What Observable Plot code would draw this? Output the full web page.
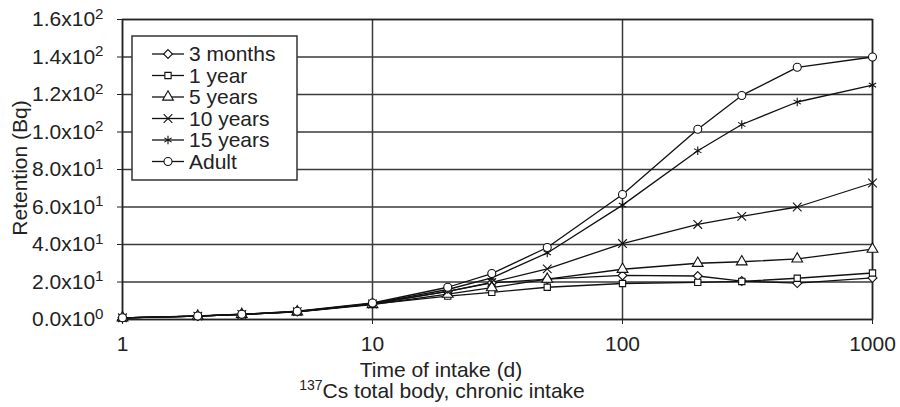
<!DOCTYPE html>
<html>
<head>
<meta charset="utf-8">
<script src="https://cdn.jsdelivr.net/npm/d3@7"></script>
<script src="https://cdn.jsdelivr.net/npm/@observablehq/plot@0.6"></script>
<style>
  html, body { margin: 0; padding: 0; background: #fff; }
  #chart { width: 900px; height: 407px; }
</style>
</head>
<body>
<div id="chart"></div>
<script>
// ---- data ----
const days = [1, 2, 3, 5, 10, 20, 30, 50, 100, 200, 300, 500, 1000];
const seriesNames = ["3 months", "1 year", "5 years", "10 years", "15 years", "Adult"];
const months3 = [0.9, 1.8, 2.7, 4.2, 8.4, 15.0, 19.5, 21.5, 23.5, 23.2, 20.5, 19.4, 22.2];
const year1   = [0.9, 1.8, 2.7, 4.1, 8.2, 12.5, 14.5, 17.2, 19.2, 19.8, 20.3, 22.0, 24.8];
const years5  = [0.9, 1.8, 2.7, 4.1, 8.0, 13.5, 17.0, 21.5, 26.8, 30.0, 30.8, 32.3, 37.5];
const years10 = [0.9, 1.8, 2.7, 4.2, 8.3, 15.0, 19.8, 27.0, 40.5, 50.7, 55.0, 60.0, 72.8];
const years15 = [0.9, 1.8, 2.8, 4.3, 8.6, 16.0, 22.2, 35.5, 61.0, 90.0, 104.0, 116.0, 125.0];
const adult   = [0.9, 1.9, 2.8, 4.4, 8.8, 17.2, 24.5, 38.4, 66.7, 101.5, 119.5, 134.5, 140.0];
const seriesValues = [months3, year1, years5, years10, years15, adult];
const seriesSymbols = ["diamond2", "square2", "triangle", "times", "asterisk", "circle"];

const xTicks = [1, 10, 100, 1000];
const xTickLabels = ["1", "10", "100", "1000"];
const yTicks = [0, 20, 40, 60, 80, 100, 120, 140, 160];
const yTickLabels = ["0.0x10^0", "2.0x10^1", "4.0x10^1", "6.0x10^1", "8.0x10^1",
                     "1.0x10^2", "1.2x10^2", "1.4x10^2", "1.6x10^2"];
const xTitle = "Time of intake (d)";
const yTitle = "Retention (Bq)";
const captionSup = "137";
const captionText = "Cs total body, chronic intake";

// ---- table ----
const rows = [];
seriesNames.forEach((s, i) => {
  days.forEach((d, j) => rows.push({day: d, value: seriesValues[i][j], series: s}));
});

const FONT = "'Liberation Sans', Arial, Helvetica, sans-serif";
const FS = 21;
const GRID = "#3a3a3a";

const plot = Plot.plot({
  width: 900,
  height: 407,
  marginLeft: 122,
  marginRight: 28,
  marginTop: 19,
  marginBottom: 88,
  style: {fontFamily: FONT, fontSize: FS + "px", color: "#222", background: "#fff"},
  x: {
    type: "log",
    domain: [1, 1000],
    ticks: xTicks,
    tickFormat: d => xTickLabels[xTicks.indexOf(d)],
    tickSize: 5,
    tickPadding: 12,
    label: null
  },
  y: {
    domain: [0, 160],
    ticks: yTicks,
    tickFormat: d => yTickLabels[yTicks.indexOf(d)],
    tickSize: 5,
    tickPadding: 14,
    label: null
  },
  symbol: {domain: seriesNames, range: seriesSymbols},
  marks: [
    Plot.ruleY(yTicks, {stroke: GRID, strokeWidth: 1.5}),
    Plot.ruleX(xTicks, {stroke: GRID, strokeWidth: 1.5}),
    Plot.frame({stroke: "#222", strokeWidth: 1.5}),
    Plot.line(rows, {x: "day", y: "value", z: "series", stroke: "#111", strokeWidth: 1.3}),
    Plot.dot(rows, {x: "day", y: "value", symbol: "series", fill: "white", stroke: "#111", strokeWidth: 1.1, r: 4})
  ]
});

document.getElementById("chart").appendChild(plot);

// superscripts in y tick labels
const NS = "http://www.w3.org/2000/svg";
plot.querySelectorAll('[aria-label="y-axis tick label"] text').forEach(t => {
  const parts = t.textContent.split("^");
  if (parts.length === 2) {
    t.textContent = parts[0];
    const sup = document.createElementNS(NS, "tspan");
    sup.setAttribute("dy", "-0.5em");
    sup.setAttribute("font-size", "0.72em");
    sup.textContent = parts[1];
    t.appendChild(sup);
  }
});

const svg = d3.select(plot);

// axis titles
svg.append("text")
  .attr("x", 441).attr("y", 377)
  .attr("text-anchor", "middle")
  .attr("fill", "#222").attr("font-size", FS).attr("font-family", FONT)
  .text(xTitle);

svg.append("text")
  .attr("transform", "translate(27,168) rotate(-90)")
  .attr("text-anchor", "middle")
  .attr("fill", "#222").attr("font-size", FS).attr("font-family", FONT)
  .text(yTitle);

const cap = svg.append("text")
  .attr("x", 442).attr("y", 398)
  .attr("text-anchor", "middle")
  .attr("fill", "#222").attr("font-size", FS).attr("font-family", FONT);
cap.append("tspan").attr("font-size", 14).attr("dy", -8).text(captionSup);
cap.append("tspan").attr("dy", 8).text(captionText);

// legend box
const lg = svg.append("g").attr("font-family", FONT).attr("font-size", FS).attr("fill", "#222")
  .attr("text-anchor", "start");
lg.append("rect")
  .attr("x", 132).attr("y", 36).attr("width", 165).attr("height", 144)
  .attr("fill", "white").attr("stroke", "#333").attr("stroke-width", 1.5);
const symMap = {
  diamond2: d3.symbolDiamond2, square2: d3.symbolSquare2, triangle: d3.symbolTriangle,
  times: d3.symbolTimes, asterisk: d3.symbolAsterisk, circle: d3.symbolCircle
};
seriesNames.forEach((s, i) => {
  const y = 54 + i * 21.5;
  lg.append("line").attr("x1", 152).attr("x2", 184).attr("y1", y).attr("y2", y)
    .attr("stroke", "#111").attr("stroke-width", 1.3);
  lg.append("path")
    .attr("transform", `translate(168,${y})`)
    .attr("d", d3.symbol(symMap[seriesSymbols[i]], 4 * 4 * Math.PI)())
    .attr("fill", "white").attr("stroke", "#111").attr("stroke-width", 1.1);
  lg.append("text").attr("x", 189).attr("y", y).attr("dy", "0.35em")
    .attr("text-anchor", "start").text(s);
});
</script>
</body>
</html>
